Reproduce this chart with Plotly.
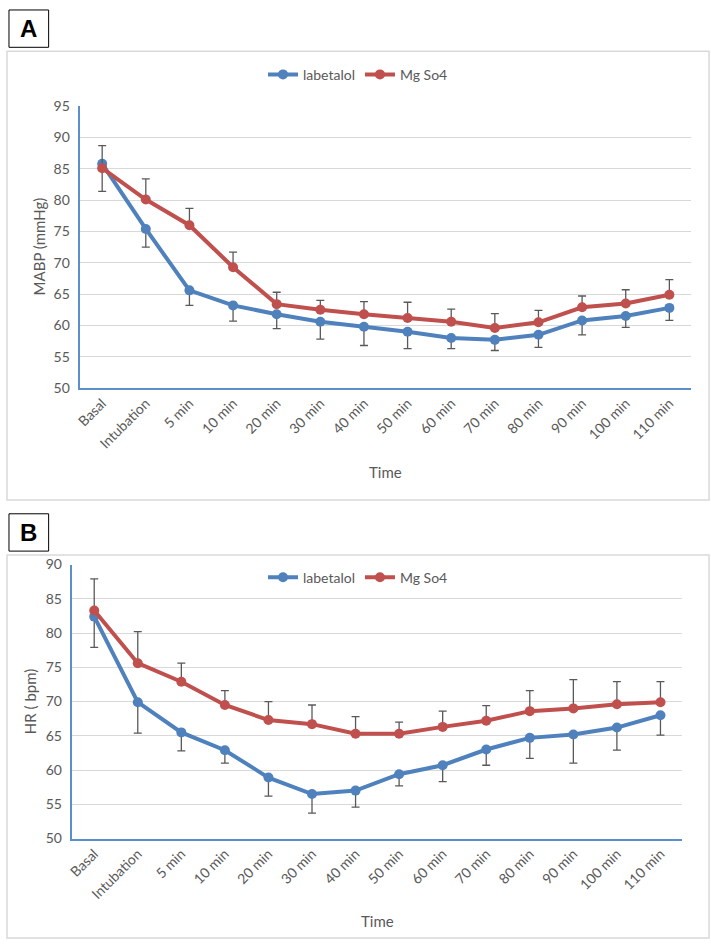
import plotly.graph_objects as go

W = 711
H = 948

times = ['Basal', 'Intubation', '5 min', '10 min', '20 min', '30 min', '40 min',
         '50 min', '60 min', '70 min', '80 min', '90 min', '100 min', '110 min']

# panel A - MABP (mmHg)
mabp_labetalol = [85.8, 75.4, 65.6, 63.2, 61.8, 60.6, 59.8, 59.0, 58.0, 57.7, 58.5, 60.8, 61.5, 62.8]
mabp_labetalol_sd = [4.4, 2.9, 2.4, 2.5, 2.3, 2.8, 3.0, 2.7, 1.7, 1.7, 2.0, 2.3, 1.8, 2.0]
mabp_mgso4 = [85.1, 80.1, 76.0, 69.3, 63.4, 62.5, 61.8, 61.2, 60.6, 59.6, 60.5, 62.9, 63.5, 64.9]
mabp_mgso4_sd = [3.6, 3.3, 2.7, 2.4, 1.9, 1.5, 2.0, 2.5, 2.0, 2.3, 1.9, 1.8, 2.2, 2.4]

# panel B - HR (bpm)
hr_labetalol = [82.4, 69.9, 65.5, 62.9, 58.9, 56.5, 57.0, 59.4, 60.7, 63.0, 64.7, 65.2, 66.2, 68.0]
hr_labetalol_sd = [4.5, 4.5, 2.7, 1.9, 2.7, 2.8, 2.4, 1.7, 2.4, 2.3, 3.0, 4.2, 3.3, 2.9]
hr_mgso4 = [83.3, 75.6, 72.9, 69.5, 67.3, 66.7, 65.3, 65.3, 66.3, 67.2, 68.6, 69.0, 69.6, 69.9]
hr_mgso4_sd = [4.6, 4.6, 2.7, 2.1, 2.7, 2.8, 2.5, 1.7, 2.3, 2.2, 3.0, 4.2, 3.3, 3.0]

BLUE = '#4f81bd'
RED = '#c0504d'
GREY = '#595959'
FONT = 'Lato'


def px(x):
    return x / W


def py(y):
    return 1 - y / H


def series(name, x, y, col, err, minus, xa, ya, leg):
    zeros = [0] * len(err)
    return go.Scatter(
        x=x, y=y, name=name, mode='lines+markers',
        line=dict(color=col, width=4),
        marker=dict(color=col, size=10),
        error_y=dict(type='data', symmetric=False,
                     array=zeros if minus else err,
                     arrayminus=err if minus else zeros,
                     color=GREY, thickness=1.3, width=4),
        xaxis=xa, yaxis=ya, legend=leg,
    )


plt_data = [
    series('labetalol', times, mabp_labetalol, BLUE, mabp_labetalol_sd, True, 'x', 'y', 'legend'),
    series('Mg So4', times, mabp_mgso4, RED, mabp_mgso4_sd, False, 'x', 'y', 'legend'),
    series('labetalol', times, hr_labetalol, BLUE, hr_labetalol_sd, True, 'x2', 'y2', 'legend2'),
    series('Mg So4', times, hr_mgso4, RED, hr_mgso4_sd, False, 'x2', 'y2', 'legend2'),
]

xax = dict(type='category', range=[-0.5, 13.5], showgrid=False, zeroline=False,
           showline=True, linecolor='#5b8fcb', linewidth=1.5, ticks='',
           tickangle=-45, tickfont=dict(family=FONT, size=14, color=GREY), fixedrange=True)
yax = dict(showgrid=True, gridcolor='#d9d9d9', gridwidth=1, zeroline=False,
           showline=True, linecolor='#5b8fcb', linewidth=1.5, ticks='', dtick=5,
           ticklabelstandoff=6, tickfont=dict(family=FONT, size=14, color=GREY))

leg = dict(orientation='h', xanchor='center', yanchor='middle', bgcolor='rgba(0,0,0,0)',
           font=dict(family=FONT, size=14, color=GREY), itemwidth=30, tracegroupgap=0)

frame = dict(type='rect', xref='paper', yref='paper', line=dict(color='#d9d9d9', width=1.5))
box = dict(type='rect', xref='paper', yref='paper', line=dict(color='black', width=1))

shapes = [
    dict(frame, x0=px(1), x1=px(709), y0=py(43), y1=py(500)),
    dict(frame, x0=px(1), x1=px(709), y0=py(556), y1=py(946)),
    dict(box, x0=px(3), x1=px(43), y0=py(1), y1=py(39)),
    dict(box, x0=px(3), x1=px(43), y0=py(514), y1=py(552)),
]


def note(text, x, y, size=15, angle=0, bold=False, color=GREY):
    return dict(text='<b>%s</b>' % text if bold else text, x=px(x), y=py(y),
                xref='paper', yref='paper', showarrow=False, textangle=angle,
                xanchor='center', yanchor='middle',
                font=dict(family=FONT if not bold else 'Liberation Sans', size=size, color=color))


annotations = [
    note('A', 23, 20, size=24, bold=True, color='black'),
    note('B', 23, 533, size=24, bold=True, color='black'),
    note('MABP (mmHg)', 33, 242, angle=-90),
    note('HR ( bpm)', 25, 705, angle=-90),
    note('Time', 383, 471),
    note('Time', 375, 929),
]

layout = go.Layout(
    width=W, height=H,
    margin=dict(l=0, r=0, t=0, b=0),
    paper_bgcolor='white', plot_bgcolor='white',
    font=dict(family=FONT, color=GREY),
    xaxis=dict(xax, domain=[px(75), px(691)], anchor='y'),
    yaxis=dict(yax, domain=[py(386), py(99)], range=[50, 95], anchor='x'),
    xaxis2=dict(xax, domain=[px(67), px(682)], anchor='y2'),
    yaxis2=dict(yax, domain=[py(844.7), py(565.7)], range=[50, 90], anchor='x2'),
    legend=dict(leg, x=px(355), y=py(67)),
    legend2=dict(leg, x=px(355), y=py(579)),
    shapes=shapes,
    annotations=annotations,
    showlegend=True,
)

fig = go.Figure(data=plt_data, layout=layout)
# page body has a default 8px margin, drop it so the figure sits at 0,0
fig.write_html('out.html', config={'displayModeBar': False},
               post_script="document.body.style.margin='0';")
